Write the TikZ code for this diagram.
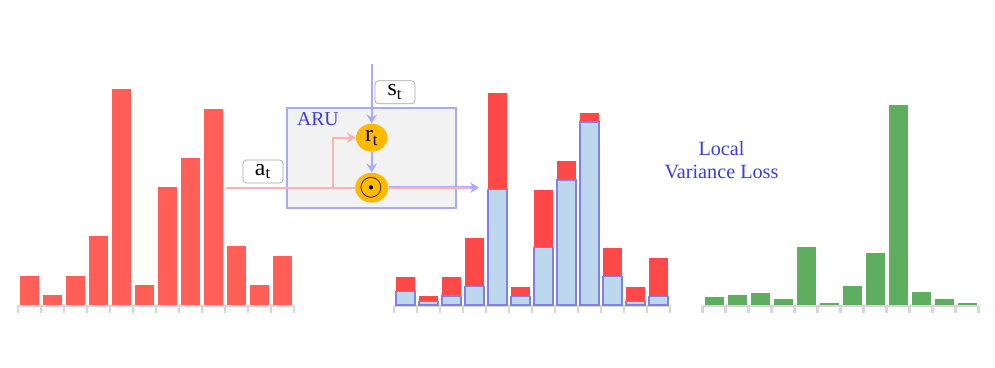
\documentclass[tikz,border=0pt]{standalone}
\usepackage{fontspec}
\setmainfont{Liberation Serif}
\usepackage{tikz}
\usetikzlibrary{positioning, arrows.meta, shapes, calc}
\usepackage{xcolor}
\definecolor{barred}{RGB}{255, 95, 87}
\definecolor{hotred}{RGB}{255, 72, 72}
\definecolor{paleblue}{RGB}{189, 215, 238}
\definecolor{edgeblue}{RGB}{128, 128, 232}
\definecolor{lossgreen}{RGB}{95, 174, 95}
\definecolor{axisgray}{RGB}{214, 214, 214}
\definecolor{arublue}{RGB}{170, 170, 238}
\definecolor{textblue}{RGB}{60, 60, 220}
\definecolor{gateorange}{RGB}{255, 186, 0}
\definecolor{linkpink}{RGB}{255, 176, 176}
\definecolor{linkblue}{RGB}{170, 170, 255}

\begin{document}
\begin{tikzpicture}[
    x=0.02cm, y=-0.02cm,
    gate/.style={ellipse, fill=gateorange, minimum width=0.63cm, minimum height=0.56cm, inner sep=0pt, font=\fontsize{13.5}{13.5}\selectfont},
    tag/.style={rectangle, rounded corners=2pt, draw=gray!70, fill=white, minimum width=0.8cm, minimum height=0.46cm, inner sep=0pt, font=\fontsize{13.5}{13.5}\selectfont},
    axisline/.style={draw=axisgray, line width=1.4pt},
    bluebar/.style={fill=paleblue, draw=edgeblue, line width=0.8pt},
    bluearrow/.style={-{Stealth[length=5pt, width=6pt]}, draw=linkblue, line width=1.2pt},
    pinkarrow/.style={-{Stealth[length=5pt, width=6pt]}, draw=linkpink, line width=1.2pt}
]
    \useasboundingbox (0,0) rectangle (995,368);

    % Left histogram
    \draw[axisline] (18,306) -- (294,306);
    \foreach \k in {0,...,12} \draw[axisline] ({18+23*\k},306) -- ++(0,7);
    \foreach \h [count=\i] in {276,295,276,235.7,89,285,187,158,109,246,285,256}
        \fill[barred] ({23*\i-3},305) rectangle ({23*\i+16},\h);

    % Middle histogram
    \draw[axisline] (394,306) -- (670,306);
    \foreach \k in {0,...,12} \draw[axisline] ({394+23*\k},306) -- ++(0,7);
    \foreach \h/\b [count=\i] in {277/291.3,296/301.3,277/296,238/286.3,93/189.3,287/296.3,190/247.3,161/180,113/122,248/276.3,287/301.3,258/296.3} {
        \fill[hotred] ({373+23*\i},305) rectangle ({392+23*\i},\h);
        \draw[bluebar] ({373+23*\i},305) rectangle ({392+23*\i},\b);
    }

    % Right histogram
    \draw[axisline] (702.7,306) -- (978.7,306);
    \foreach \k in {0,...,12} \draw[axisline] ({702.7+23*\k},306) -- ++(0,7);
    \foreach \h [count=\i] in {297,295,292.7,299,246.7,302.7,285.7,252.7,104.7,291.7,299,302.7}
        \fill[lossgreen] ({681.7+23*\i},305) rectangle ({700.7+23*\i},\h);

    % ARU block
    \node[rectangle, draw=arublue, fill=gray!10, line width=1.1pt, minimum width=3.39cm, minimum height=2cm] (aru) at (371.5,157.7) {};
    \node[anchor=north west, inner sep=0pt, text=textblue, font=\fontsize{11.2}{11.2}\selectfont] (arulabel) at (296.7,112) {ARU};

    \node[gate] (rt) at (371.7,137.7) {r\textsubscript{t}};
    \node[gate, minimum width=0.66cm, minimum height=0.6cm] (odot) at (371.7,187.7) {};
    \node[inner sep=0pt] (odotsym) at (odot.center) {\scalebox{1.75}{$\odot$}};

    \coordinate (sin) at (371.7,64);
    \coordinate (ain) at (226,187.7);
    \coordinate (abranch) at (333.3,187.7);
    \coordinate (aout) at (479,187.7);

    % links
    \draw[bluearrow] (sin) -- (rt);
    \draw[bluearrow] (rt) -- (odot);
    \draw[draw=linkpink, line width=1.2pt] (ain) -- (odot);
    \draw[pinkarrow] (abranch) |- (rt);
    \draw[bluearrow, line width=2pt] (odot) -- (aout);
    \draw[draw=linkpink, line width=1.1pt] (odot.east) -- ($(aout)+(-9,0)$);

    \node[tag] (stlabel) at (395,92.3) {s\textsubscript{t}};
    \node[tag] (atlabel) at (263,171.5) {a\textsubscript{t}};

    % Loss text
    \node[align=center, text=textblue, font=\fontsize{11.5}{13}\selectfont] (loss) at (721.5,160) {Local\\Variance Loss};
\end{tikzpicture}
\end{document}
